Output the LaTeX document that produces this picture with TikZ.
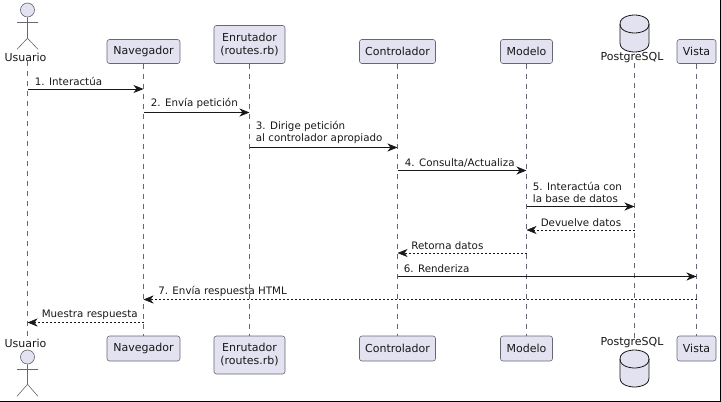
\documentclass[tikz,border=0pt]{standalone}
\usepackage{fontspec}
\setmainfont{DejaVu Sans}
\usetikzlibrary{arrows.meta, positioning}
\definecolor{partfill}{HTML}{E2E2F0}
\definecolor{partline}{HTML}{666674}
\definecolor{msgline}{HTML}{181818}

\begin{document}
\begin{tikzpicture}[
  x=1pt, y=-1pt,
  part/.style={draw=partline, rounded corners=2.5pt, fill=partfill, align=center,
    line width=0.6pt, inner sep=0pt, font=\fontsize{11}{13}\selectfont, text=msgline},
  name label/.style={inner sep=0pt, font=\fontsize{11}{13}\selectfont, text=msgline},
  head/.style={circle, draw=partline, fill=partfill, minimum size=14pt, inner sep=0pt, line width=0.6pt},
  db/.style={minimum width=29pt, minimum height=37pt, inner sep=0pt},
  dbline/.style={draw=msgline, line width=0.8pt},
  stick/.style={draw=partline, line width=0.6pt},
  lifeline/.style={draw=partline, dash pattern=on 5pt off 5pt, line width=0.6pt},
  call/.style={-{Stealth[length=10pt, width=8pt, inset=3pt]}, draw=msgline, line width=0.8pt},
  back/.style={-{Stealth[length=10pt, width=8pt, inset=3pt]}, draw=msgline, line width=0.6pt, dash pattern=on 2pt off 2pt},
  msg/.style={inner sep=0pt, anchor=south west, align=left, font=\fontsize{10.3}{12}\selectfont, text=msgline}
]
\useasboundingbox (0,0) rectangle (721,402);

% frame edge
\draw[black, line width=1pt] (720,0) -- (720,401.2) -- (0,401.2);

% top row
\node[head] (usuarioC) at (27.5,10) {};
\node[name label] (usuarioT) at (25.5,57) {Usuario};
\node[part, minimum width=73pt, minimum height=24pt] (navegadorT) at (143.5,51.5) {Navegador};
\node[part, minimum width=71pt, minimum height=38pt] (enrutadorT) at (249.5,44.5) {Enrutador\\(routes.rb)};
\node[part, minimum width=76pt, minimum height=24pt] (controladorT) at (397.5,51.5) {Controlador};
\node[part, minimum width=52pt, minimum height=24pt] (modeloT) at (526.5,51.5) {Modelo};
\node[db] (postgresC) at (634.5,33.5) {};
\node[name label] (postgresT) at (632,58) {PostgreSQL};
\node[part, minimum width=39pt, minimum height=24pt] (vistaT) at (696.5,51.5) {Vista};

% bottom row
\node[name label] (usuarioB) at (25.5,343.5) {Usuario};
\node[head] (usuarioD) at (27.5,357) {};
\node[part, minimum width=73pt, minimum height=25pt] (navegadorB) at (143.5,348.5) {Navegador};
\node[part, minimum width=71pt, minimum height=38pt] (enrutadorB) at (249.5,355) {Enrutador\\(routes.rb)};
\node[part, minimum width=76pt, minimum height=25pt] (controladorB) at (397.5,348.5) {Controlador};
\node[part, minimum width=52pt, minimum height=25pt] (modeloB) at (526.5,348.5) {Modelo};
\node[name label] (postgresB) at (632,343) {PostgreSQL};
\node[db] (postgresD) at (634.5,368.5) {};
\node[part, minimum width=39pt, minimum height=25pt] (vistaB) at (696.5,348.5) {Vista};

% actors
\draw[stick] (usuarioC.south) -- ++(0,21) -- ++(-10.5,11);
\draw[stick] (usuarioC.south) ++(0,21) -- ++(10.5,11);
\draw[stick] (17,22.5) -- (38,22.5);
\draw[stick] (usuarioD.south) -- ++(0,20) -- ++(-10.5,12);
\draw[stick] (usuarioD.south) ++(0,20) -- ++(10.5,12);
\draw[stick] (17,369) -- (38,369);

% database drums
\foreach \drum in {postgresC, postgresD} {
  \draw[dbline, fill=partfill] (\drum) ++(-14.5,-9.5) .. controls +(0,-9) and +(0,0) .. ++(14.5,-9)
    .. controls +(0,0) and +(0,-9) .. ++(14.5,9) -- ++(0,19)
    .. controls +(0,9) and +(0,0) .. ++(-14.5,9)
    .. controls +(0,0) and +(0,9) .. ++(-14.5,-9) -- cycle;
  \draw[dbline] (\drum) ++(-14.5,-9.5) .. controls +(0,9) and +(0,0) .. ++(14.5,9)
    .. controls +(0,0) and +(0,9) .. ++(14.5,-9);
}

% lifelines
\draw[lifeline] (usuarioC |- usuarioT.south) -- (usuarioC |- usuarioB.north);
\draw[lifeline] (navegadorT) -- (navegadorB);
\draw[lifeline] (enrutadorT) -- (enrutadorB);
\draw[lifeline] (controladorT) -- (controladorB);
\draw[lifeline] (modeloT) -- (modeloB);
\draw[lifeline] (postgresC |- postgresT.south) -- (postgresC |- postgresB.north);
\draw[lifeline] (vistaT) -- (vistaB);

% rows
\coordinate (r1) at (0,89);
\coordinate (r2) at (0,112.5);
\coordinate (r3) at (0,147.5);
\coordinate (r4) at (0,170.5);
\coordinate (r5) at (0,206.5);
\coordinate (r6) at (0,230);
\coordinate (r7) at (0,253);
\coordinate (r8) at (0,276.5);
\coordinate (r9) at (0,299.5);
\coordinate (r10) at (0,322.5);

% messages
\draw[call] (usuarioC |- r1) -- (navegadorT |- r1) node[msg, pos=0, xshift=7pt, yshift=3pt] {1. Interactúa};
\draw[call] (navegadorT |- r2) -- (enrutadorT |- r2) node[msg, pos=0, xshift=7pt, yshift=3pt] {2. Envía petición};
\draw[call] (enrutadorT |- r3) -- (controladorT |- r3) node[msg, pos=0, xshift=6pt, yshift=3pt] {3. Dirige petición\\al controlador apropiado};
\draw[call] (controladorT |- r4) -- (modeloT |- r4) node[msg, pos=0, xshift=7pt, yshift=3pt] {4. Consulta/Actualiza};
\draw[call] (modeloT |- r5) -- (postgresC |- r5) node[msg, pos=0, xshift=6pt, yshift=3pt] {5. Interactúa con\\la base de datos};
\draw[back] (postgresC |- r6) -- (modeloT |- r6) node[msg, pos=1, xshift=14pt, yshift=3pt] {Devuelve datos};
\draw[back] (modeloT |- r7) -- (controladorT |- r7) node[msg, pos=1, xshift=13.5pt, yshift=3pt] {Retorna datos};
\draw[call] (controladorT |- r8) -- (vistaT |- r8) node[msg, pos=0, xshift=6pt, yshift=3pt] {6. Renderiza};
\draw[back] (vistaT |- r9) -- (navegadorT |- r9) node[msg, pos=1, xshift=14.5pt, yshift=3pt] {7. Envía respuesta HTML};
\draw[back] (navegadorT |- r10) -- (usuarioC |- r10) node[msg, pos=1, xshift=14pt, yshift=3pt] {Muestra respuesta};
\end{tikzpicture}
\end{document}
